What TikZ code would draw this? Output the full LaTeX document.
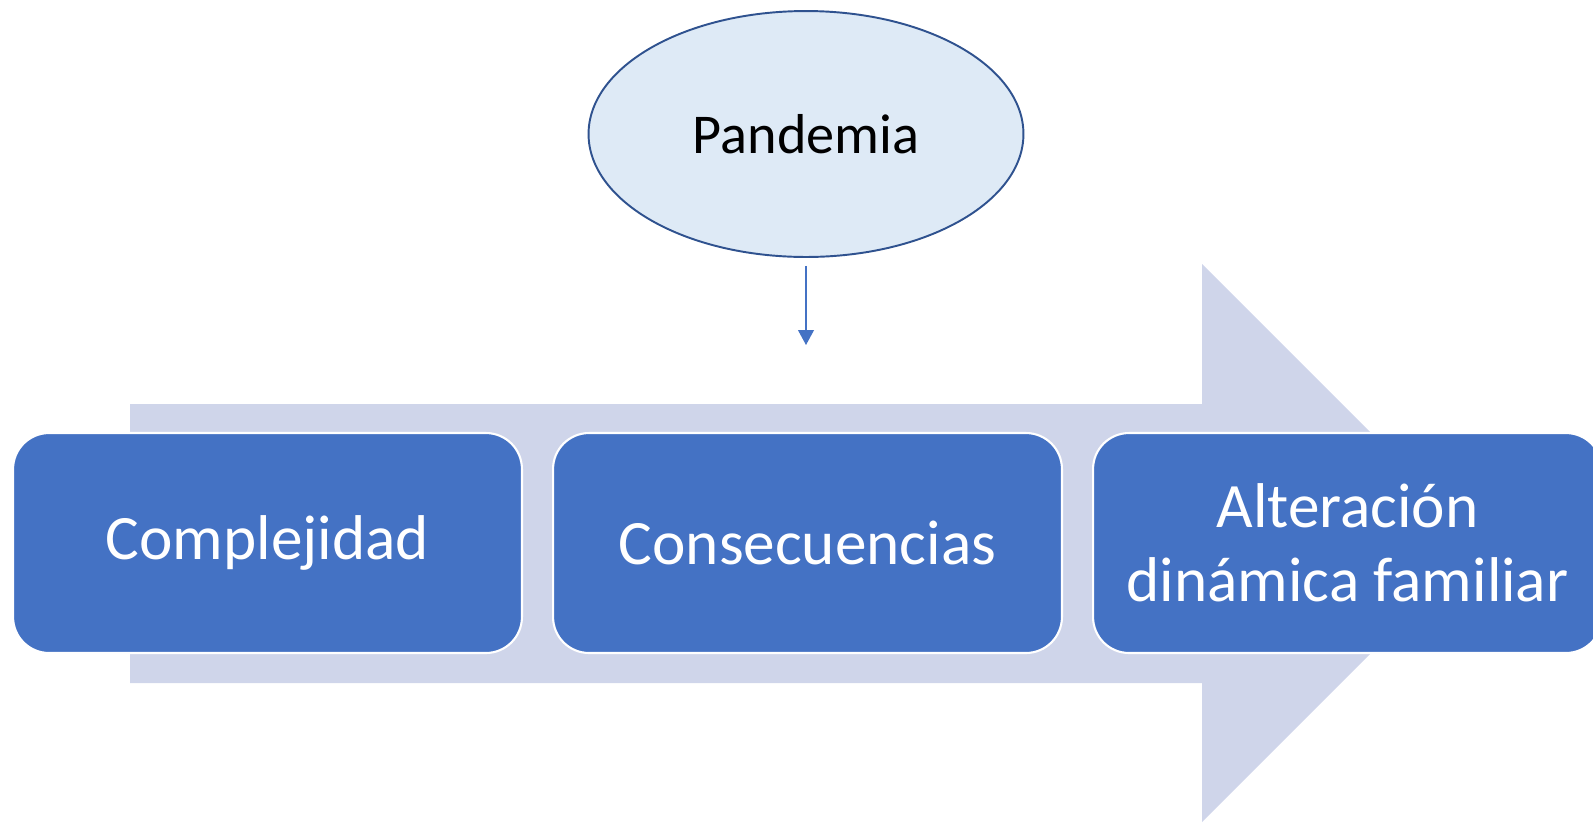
\documentclass[tikz,border=0pt]{standalone}
\usepackage{fontspec}
\setmainfont{Carlito}
\usetikzlibrary{positioning,shapes.geometric,arrows.meta}
\definecolor{boxblue}{HTML}{4472C4}
\definecolor{bandgrey}{HTML}{CFD5EA}
\definecolor{ovalfill}{HTML}{DEEAF6}
\definecolor{ovalline}{HTML}{2F528F}

\begin{document}
\begin{tikzpicture}[x=0.02cm,y=-0.02cm,
  stage/.style={rectangle,rounded corners=0.72cm,fill=boxblue,draw=white,line width=1.2pt,
    minimum width=10.18cm,minimum height=4.4cm,text=white,align=center,
    font=\fontsize{36}{42}\selectfont},
  cause/.style={ellipse,fill=ovalfill,draw=ovalline,line width=1.1pt,
    minimum width=8.7cm,minimum height=4.92cm,inner sep=0pt,font=\fontsize{32}{38}\selectfont},
  node distance=0.58cm]
  \useasboundingbox (0,0) rectangle (1593,823);
  % background block arrow
  \fill[bandgrey] (130,404) -- (1202,404) -- (1202,264) -- (1481,543)
    -- (1202,822) -- (1202,683) -- (130,683) -- cycle;
  \node[stage] (compl) at (267.5,543) {Complejidad};
  \node[stage,right=of compl] (conse) {Consecuencias};
  \node[stage,right=of conse] (alter) {Alteración\\dinámica familiar};
  \node[cause] (pandemia) at (806,134) {Pandemia};
  \coordinate (drop) at (806,345);
  \draw[boxblue,line width=0.8pt,-{Triangle[width=9pt,length=8.5pt]}]
    ([yshift=-0.16cm]pandemia.south) -- (drop);
\end{tikzpicture}
\end{document}
